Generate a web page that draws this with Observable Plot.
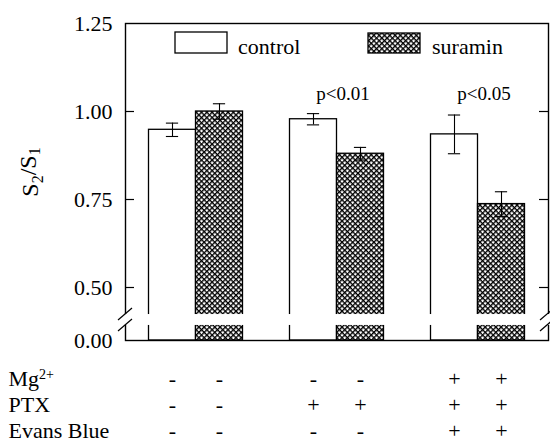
<!DOCTYPE html>
<html><head><meta charset="utf-8">
<script src="https://cdn.jsdelivr.net/npm/d3@7"></script>
<script src="https://cdn.jsdelivr.net/npm/@observablehq/plot@0.6"></script>
<style>html,body{margin:0;padding:0;background:#fff}</style>
</head><body><div id="chart"></div>
<script>
// ---- data ----
const groups = ["baseline", "PTX", "Mg2+ PTX Evans Blue"];
const series = ["control", "suramin"];
const controlMeans = [0.948, 0.978, 0.935];
const controlErr   = [0.019, 0.016, 0.055];
const suraminMeans = [1.000, 0.880, 0.737];
const suraminErr   = [0.022, 0.018, 0.035];
const pLabels = ["", "p<0.01", "p<0.05"];
const rowLabels = ["Mg2+", "PTX", "Evans Blue"];
const mgSigns    = ["-", "-", "+"];
const ptxSigns   = ["-", "+", "+"];
const evansSigns = ["-", "-", "+"];
const yTicks = [0, 0.5, 0.75, 1.0, 1.25];
const innerTicks = [0.5, 0.75, 1.0];
const breakLow = 0.142, breakHigh = 0.245; // axis break band (value units)

// ---- build tables ----
const bars = [];
groups.forEach((g, i) => {
  bars.push({group: g, series: "control", pos: i * 3, value: controlMeans[i], err: controlErr[i]});
  bars.push({group: g, series: "suramin", pos: i * 3 + 1, value: suraminMeans[i], err: suraminErr[i]});
});
const caps = bars.flatMap(d => [{...d, y: d.value - d.err}, {...d, y: d.value + d.err}]);
const signRows = [mgSigns, ptxSigns, evansSigns];
const signs = signRows.flatMap((row, r) =>
  bars.map(b => ({row: r, pos: b.pos, sign: row[groups.indexOf(b.group)]})));
// p-labels centred over each group (boundary between its two bars)
const pData = groups.map((g, i) => ({mid: i * 3 + 1, text: pLabels[i]})).filter(d => d.text);

const W = 550, H = 446, mL = 125, mR = 2, mT = 23, mB = 106;
const frameW = W - mL - mR;
const FONT = "Liberation Serif";
const rowDy = r => 45 + 26 * r;

const marks = [
  Plot.rect(bars.filter(d => d.series === "control"),
    {x1: "pos", x2: d => d.pos + 1, y1: 0, y2: "value", fill: "white", stroke: "black", strokeWidth: 1.3}),
  Plot.rect(bars.filter(d => d.series === "suramin"),
    {x1: "pos", x2: d => d.pos + 1, y1: 0, y2: "value", fill: "url(#hatch)", stroke: "black", strokeWidth: 1.3}),
  Plot.ruleX(bars, {x: d => d.pos + 0.5, y1: d => d.value - d.err, y2: d => d.value + d.err, stroke: "black", strokeWidth: 1.1}),
  Plot.ruleY(caps, {y: "y", x1: d => d.pos + 0.37, x2: d => d.pos + 0.63, stroke: "black", strokeWidth: 1.1}),
  Plot.frame({stroke: "black", strokeWidth: 1.4}),
  Plot.ruleY(innerTicks, {insetRight: frameW - 9, stroke: "black", strokeWidth: 1.2}),
  Plot.ruleY(innerTicks, {insetLeft: frameW - 9, stroke: "black", strokeWidth: 1.2}),
  Plot.rect([0], {y1: breakLow, y2: breakHigh, fill: "white", insetLeft: -3, insetRight: -3}),
  Plot.axisY({ticks: yTicks, tickSize: 0, tickPadding: 13, tickFormat: d3.format(".2f"), label: null, fontSize: 22, fontFamily: FONT}),
  Plot.text(pData, {x: "mid", y: 1.05, text: "text", dx: 6, fontSize: 19, fontFamily: FONT}),
  ...signRows.map((row, r) => Plot.text(signs.filter(d => d.row === r),
    {x: d => d.pos + 0.5, text: "sign", frameAnchor: "bottom", dy: rowDy(r), fontSize: 22, fontFamily: FONT})),
  ...rowLabels.map((lab, r) => Plot.text([lab],
    {text: d => d, frameAnchor: "bottom-left", textAnchor: "start", dx: -117, dy: rowDy(r), fontSize: 22, fontFamily: FONT}))
];

const chart = Plot.plot({
  width: W, height: H,
  marginLeft: mL, marginRight: mR, marginTop: mT, marginBottom: mB,
  style: {fontSize: "22px", background: "white", color: "black"},
  x: {type: "linear", domain: [-0.5, 8.5], axis: null},
  y: {type: "linear", domain: [0, 0.5, 1.25], range: [H - mB, H - mB - 53, mT], axis: null},
  marks
});

const svg = d3.select(chart);
svg.attr("font-family", FONT);
// hatch pattern
const defs = svg.insert("defs", ":first-child");
const s = 3.75;
const pat = defs.append("pattern").attr("id", "hatch").attr("patternUnits", "userSpaceOnUse")
  .attr("width", s).attr("height", s).attr("patternTransform", "rotate(45)");
pat.append("rect").attr("width", s).attr("height", s).attr("fill", "white");
pat.append("rect").attr("width", s).attr("height", 1.35).attr("fill", "black");
pat.append("rect").attr("width", 1.35).attr("height", s).attr("fill", "black");

// superscript for Mg2+
svg.selectAll("text").each(function() {
  const t = d3.select(this);
  if (t.text() === "Mg2+") {
    t.text("Mg");
    t.append("tspan").attr("dy", "-0.45em").attr("font-size", "14px").text("2+");
  }
});

// axis break slashes
const yS = chart.scale("y");
const yHi = yS.apply(breakHigh), yLo = yS.apply(breakLow);
const brk = svg.append("g").attr("stroke", "black").attr("stroke-width", 1.2);
[mL, W - mR - 1].forEach(x0 => {
  [yHi, yLo].forEach(yy => {
    brk.append("line").attr("x1", x0 - 7).attr("y1", yy + 6).attr("x2", x0 + 7).attr("y2", yy - 6);
  });
});

// y label with subscripts
const yl = svg.append("text").attr("transform", "translate(38,172) rotate(-90)")
  .attr("text-anchor", "middle").attr("font-size", "24px").attr("fill", "black");
yl.append("tspan").text("S");
yl.append("tspan").attr("dy", "0.3em").attr("font-size", "16px").text("2");
yl.append("tspan").attr("dy", "-0.3em").text("/S");
yl.append("tspan").attr("dy", "0.3em").attr("font-size", "16px").text("1");

// legend
const leg = svg.append("g").attr("font-size", "22px").attr("text-anchor", "start");
leg.append("rect").attr("x", 175).attr("y", 32).attr("width", 52).attr("height", 21)
  .attr("fill", "white").attr("stroke", "black").attr("stroke-width", 1.3);
leg.append("text").attr("x", 238).attr("y", 54).text(series[0]);
leg.append("rect").attr("x", 368).attr("y", 33).attr("width", 52).attr("height", 20)
  .attr("fill", "url(#hatch)").attr("stroke", "black").attr("stroke-width", 1.3);
leg.append("text").attr("x", 432).attr("y", 54).text(series[1]);

svg.selectAll("text").attr("font-family", FONT).style("font-family", FONT);

document.getElementById("chart").appendChild(chart);
</script>
</body></html>
